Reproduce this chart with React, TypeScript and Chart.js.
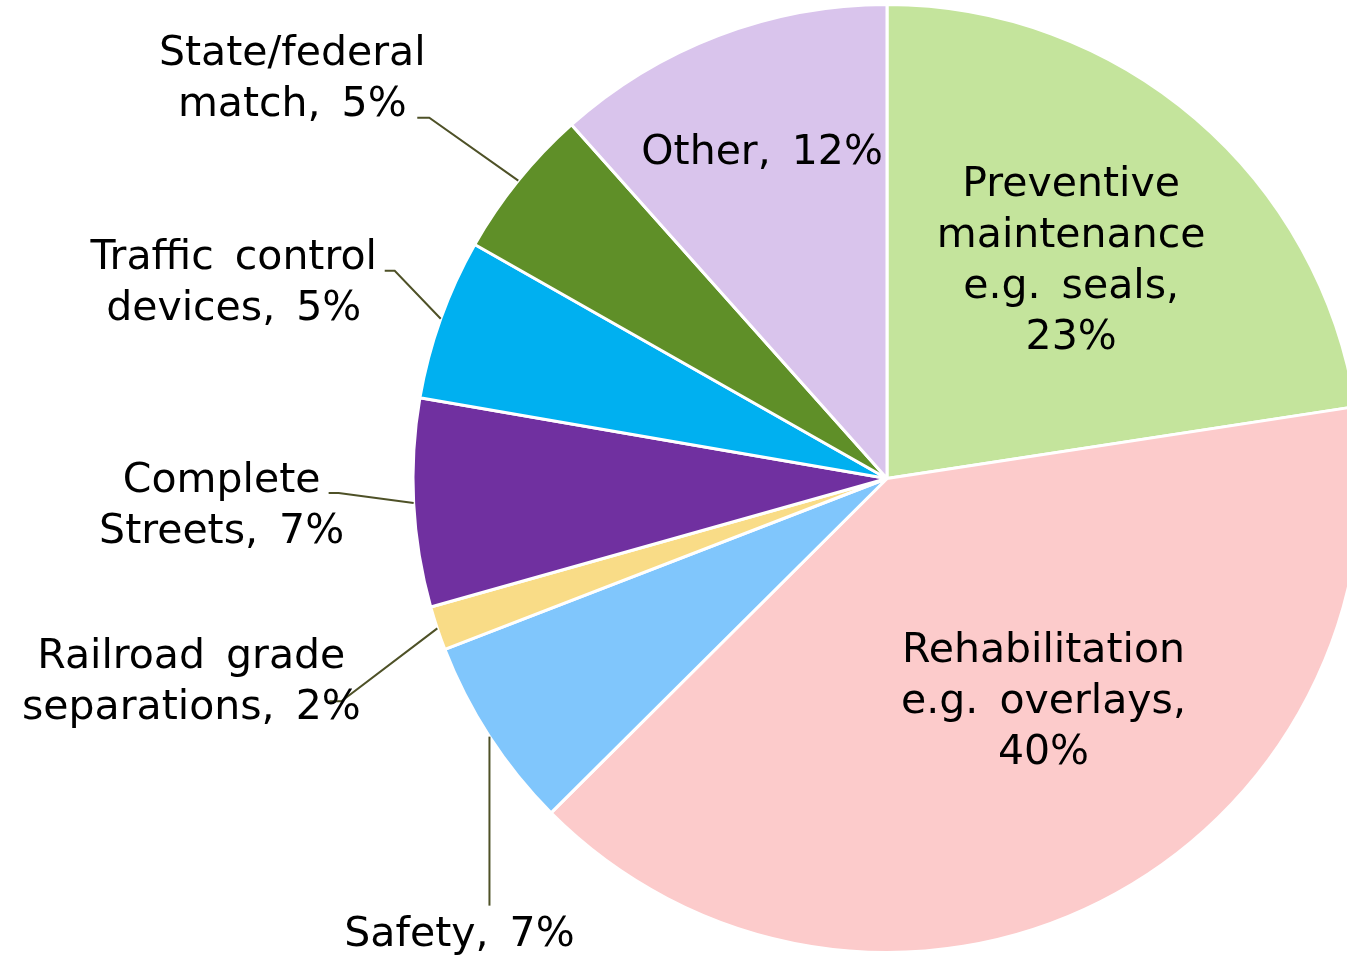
import React, { useEffect, useRef } from 'react';
import { Chart, registerables } from 'chart.js';

Chart.register(...registerables);

// ---------- data ----------
const categories = [
  'Preventive maintenance e.g. seals',
  'Rehabilitation e.g. overlays',
  'Safety',
  'Railroad grade separations',
  'Complete Streets',
  'Traffic control devices',
  'State/federal match',
  'Other',
];
const shares = [22.6, 40.0, 6.6, 1.5, 7.1, 5.5, 5.2, 11.6];
const percentLabels = ['23%', '40%', '7%', '2%', '7%', '5%', '5%', '12%'];
const categoryLines = [
  ['Preventive', 'maintenance', 'e.g. seals'],
  ['Rehabilitation', 'e.g. overlays'],
  ['Safety'],
  ['Railroad grade', 'separations'],
  ['Complete', 'Streets'],
  ['Traffic control', 'devices'],
  ['State/federal', 'match'],
  ['Other'],
];
const percentOnOwnLine = [true, true, false, false, false, false, false, false];

// ---------- styles ----------
const sliceColors = [
  '#C4E49C',
  '#FCCBCB',
  '#80C6FC',
  '#F9DC87',
  '#7030A0',
  '#00B0F0',
  '#5F8F28',
  '#D9C4EC',
];
const FONT = '41px "DejaVu Sans", Verdana, sans-serif';
const LINE_H = 51;
const TEXT_SHIFT_Y = 2;
const LEADER_COLOR = '#4E5127';

type InsideLayout = { inside: true; f: number; dx: number; dy: number };
type OutsideLayout = {
  inside: false;
  textDx: number;
  textDy: number;
  elbow: [number, number];
  end: [number, number];
};
const labelLayout: (InsideLayout | OutsideLayout)[] = [
  { inside: true, f: 0.603, dx: -2, dy: -2 },
  { inside: true, f: 0.55, dx: 39, dy: -11 },
  { inside: false, textDx: -30, textDy: 197, elbow: [0, 169], end: [0, 169] },
  { inside: false, textDx: -246, textDy: 52, elbow: [-96, 73], end: [-108, 73] },
  { inside: false, textDx: -192, textDy: 2, elbow: [-75, -10], end: [-85, -10] },
  { inside: false, textDx: -207, textDy: -37, elbow: [-46, -48], end: [-56, -48] },
  { inside: false, textDx: -226, textDy: -103, elbow: [-89, -63], end: [-101, -63] },
  { inside: true, f: 0.74, dx: 0, dy: 1 },
];

function buildLines(i: number): string[] {
  const base = categoryLines[i].slice();
  const last = base.length - 1;
  if (percentOnOwnLine[i]) {
    base[last] = base[last] + ',';
    base.push(percentLabels[i]);
  } else {
    base[last] = base[last] + ', ' + percentLabels[i];
  }
  return base;
}

const labelPlugin = {
  id: 'sliceLabels',
  afterDatasetsDraw(chart: any) {
    const ctx = chart.ctx as CanvasRenderingContext2D;
    const meta = chart.getDatasetMeta(0);
    ctx.save();
    meta.data.forEach((arc: any, i: number) => {
      const { x, y, startAngle, endAngle, outerRadius } = arc.getProps(
        ['x', 'y', 'startAngle', 'endAngle', 'outerRadius'],
        true
      );
      const mid = (startAngle + endAngle) / 2;
      const layout = labelLayout[i];
      let cx: number;
      let cy: number;
      if (layout.inside) {
        const d = outerRadius * layout.f;
        cx = x + d * Math.cos(mid) + layout.dx;
        cy = y + d * Math.sin(mid) + layout.dy;
      } else {
        const ax = x + outerRadius * Math.cos(mid);
        const ay = y + outerRadius * Math.sin(mid);
        ctx.beginPath();
        ctx.strokeStyle = LEADER_COLOR;
        ctx.lineWidth = 2;
        ctx.moveTo(ax, ay);
        ctx.lineTo(ax + layout.elbow[0], ay + layout.elbow[1]);
        ctx.lineTo(ax + layout.end[0], ay + layout.end[1]);
        ctx.stroke();
        cx = ax + layout.textDx;
        cy = ay + layout.textDy;
      }
      const lines = buildLines(i);
      ctx.font = FONT;
      (ctx as any).wordSpacing = '8px';
      ctx.textAlign = 'center';
      ctx.textBaseline = 'middle';
      ctx.fillStyle = '#000000';
      const n = lines.length;
      lines.forEach((t, k) => {
        ctx.fillText(t, cx, cy + TEXT_SHIFT_Y + (k - (n - 1) / 2) * LINE_H);
      });
    });
    ctx.restore();
  },
};

export default function App() {
  const canvasRef = useRef<HTMLCanvasElement | null>(null);

  useEffect(() => {
    const canvas = canvasRef.current;
    if (!canvas) return;
    const chart = new Chart(canvas, {
      type: 'pie',
      data: {
        labels: categories,
        datasets: [
          {
            data: shares,
            backgroundColor: sliceColors,
            borderColor: '#FFFFFF',
            borderWidth: 3,
            radius: 474,
          } as any,
        ],
      },
      options: {
        responsive: false,
        animation: false,
        devicePixelRatio: 1,
        layout: { padding: 0 },
        plugins: {
          legend: { display: false },
          tooltip: { enabled: false },
        },
      },
      plugins: [labelPlugin],
    });
    return () => chart.destroy();
  }, []);

  return (
    <div
      style={{
        position: 'absolute',
        left: 0,
        top: 0,
        width: 1347,
        height: 957,
        overflow: 'hidden',
        background: '#FFFFFF',
      }}
    >
      <canvas
        ref={canvasRef}
        width={1774}
        height={957}
        style={{ width: 1774, height: 957, display: 'block' }}
      />
    </div>
  );
}
